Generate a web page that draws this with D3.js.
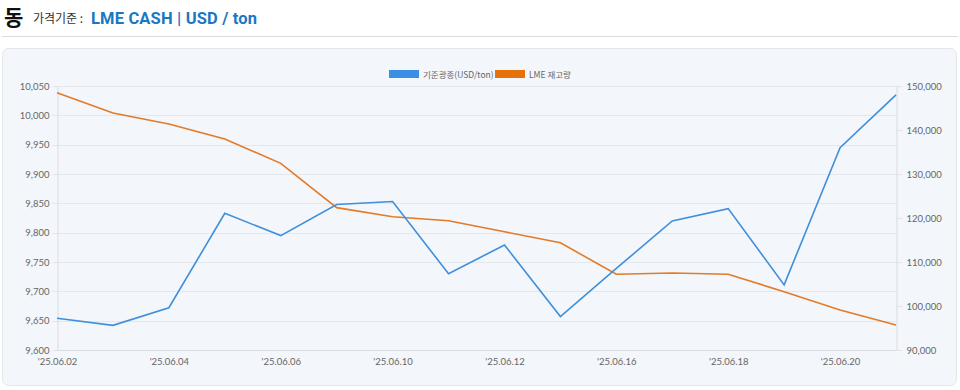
<!DOCTYPE html>
<html><head><meta charset="utf-8">
<script src="https://cdn.jsdelivr.net/npm/d3@7"></script>
<style>
html,body{margin:0;padding:0;background:#fff;width:960px;height:390px;overflow:hidden;font-family:"Noto Sans CJK KR","Noto Sans",sans-serif;}
</style></head>
<body>
<svg id="c" width="960" height="390"></svg>
<script>
const dates = ["'25.06.02","'25.06.03","'25.06.04","'25.06.05","'25.06.06","'25.06.09","'25.06.10","'25.06.11","'25.06.12","'25.06.13","'25.06.16","'25.06.17","'25.06.18","'25.06.19","'25.06.20","'25.06.23"];
const priceValues = [9654,9642,9672,9833,9795,9848,9853,9730,9779,9657,9739,9820,9841,9711,9945,10035];
const stockValues = [148475,143850,141375,137950,132425,122350,120300,119375,116875,114375,107200,107500,107200,103250,99100,95675];
const leftTicks = [9600,9650,9700,9750,9800,9850,9900,9950,10000,10050];
const rightTicks = [90000,100000,110000,120000,130000,140000,150000];
const seriesNames = ["기준광종(USD/ton)","LME 재고량"];

const svg = d3.select("#c");
const blue = "#3f8fdb", orange = "#e37a27";
const legBlue = "#3a8ee6", legOrange = "#e8710a";

// header
svg.append("text").attr("x",4).attr("y",25).attr("font-size",21).attr("font-weight",700).attr("fill","#111").text("동");
svg.append("text").attr("x",33).attr("y",23).attr("font-size",12).attr("fill","#333").text("가격기준 :");
svg.append("text").attr("x",91).attr("y",24).attr("font-size",16.5).attr("font-weight",700)
  .attr("font-family","Roboto, 'Noto Sans', sans-serif").attr("fill","#1a78c2")
  .attr("textLength",166).attr("lengthAdjust","spacing").text("LME CASH | USD / ton");
svg.append("line").attr("x1",2).attr("x2",958).attr("y1",36.5).attr("y2",36.5).attr("stroke","#dcdcdc");

// panel
svg.append("rect").attr("x",2.5).attr("y",48.5).attr("width",954).attr("height",337).attr("rx",6)
  .attr("fill","#f3f6fa").attr("stroke","#e3e7ec");

const L=57, R=896, T=86, B=350;
const x = d3.scalePoint().domain(dates).range([L,R]);
const yL = d3.scaleLinear().domain([9600,10050]).range([B,T]);
const yR = d3.scaleLinear().domain([90000,150000]).range([B,T]);

// gridlines
svg.append("g").selectAll("line").data(leftTicks).join("line")
  .attr("x1",L-5).attr("x2",R).attr("y1",d=>Math.round(yL(d))+0.5).attr("y2",d=>Math.round(yL(d))+0.5)
  .attr("stroke","#e4e7eb");
svg.append("g").selectAll("line").data(rightTicks).join("line")
  .attr("x1",R).attr("x2",R+6).attr("y1",d=>Math.round(yR(d))+0.5).attr("y2",d=>Math.round(yR(d))+0.5)
  .attr("stroke","#e0e3e7");

// axes
const fmt = d3.format(",");
const axL = svg.append("g").attr("transform",`translate(${L+0.5},0)`)
  .call(d3.axisLeft(yL).tickValues(leftTicks).tickFormat(fmt).tickSize(0).tickPadding(8));
const axR = svg.append("g").attr("transform",`translate(${R+0.5},0)`)
  .call(d3.axisRight(yR).tickValues(rightTicks).tickFormat(fmt).tickSize(0).tickPadding(10));
const axB = svg.append("g").attr("transform",`translate(0,${B+0.5})`)
  .call(d3.axisBottom(x).tickValues(dates.filter((d,i)=>i%2===0 && i<15)).tickSize(0).tickPadding(8));
[axL,axR,axB].forEach(a=>{
  a.select(".domain").attr("stroke","#d9dde2");
  a.selectAll("text").attr("fill","#666").attr("font-size",9.5).attr("font-family","Lato, 'Noto Sans', sans-serif");
});
axB.select(".domain").attr("d",`M${L},0H${R}`);

// lines
const lineL = d3.line().x((d,i)=>x(dates[i])).y(d=>yL(d));
const lineR = d3.line().x((d,i)=>x(dates[i])).y(d=>yR(d));
svg.append("path").datum(stockValues).attr("d",lineR).attr("fill","none").attr("stroke",orange).attr("stroke-width",1.6);
svg.append("path").datum(priceValues).attr("d",lineL).attr("fill","none").attr("stroke",blue).attr("stroke-width",1.6);

// legend
const leg = svg.append("g").attr("font-size",8.5).attr("fill","#666");
leg.append("rect").attr("x",389).attr("y",70).attr("width",30).attr("height",8).attr("fill",legBlue);
leg.append("text").attr("x",423).attr("y",77.5).text(seriesNames[0]);
leg.append("rect").attr("x",495).attr("y",70).attr("width",30).attr("height",8).attr("fill",legOrange);
leg.append("text").attr("x",529).attr("y",77.5).text(seriesNames[1]);
</script>
</body></html>
